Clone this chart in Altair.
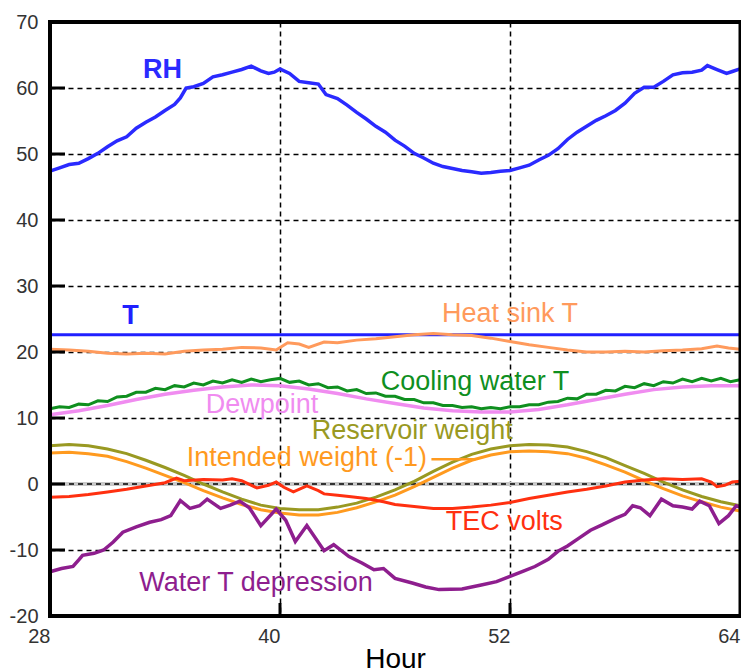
import altair as alt
import pandas as pd

# ---------------- data ----------------
rh_hour = [28.0, 28.5, 29.0, 29.5, 30.0, 30.5, 31.0, 31.5, 32.0, 32.5, 33.0, 33.5, 34.0, 34.5, 34.8, 35.1,
           35.5, 36.0, 36.5, 37.0, 37.5, 38.0, 38.5, 39.0, 39.4, 39.7, 40.0, 40.5, 41.0, 41.5, 42.0, 42.4,
           43.0, 43.5, 44.0, 44.5, 45.0, 45.5, 46.0, 46.5, 47.0, 47.5, 48.0, 48.5, 49.0, 49.5, 50.0, 50.5,
           51.0, 51.5, 52.0, 52.5, 53.0, 53.5, 54.0, 54.5, 55.0, 55.5, 56.0, 56.5, 57.0, 57.5, 58.0, 58.5,
           59.0, 59.5, 60.0, 60.5, 61.0, 61.5, 62.0, 62.3, 62.8, 63.3, 63.6, 64.0]
rh_val = [47.4, 47.9, 48.4, 48.6, 49.3, 50.1, 51.1, 52.0, 52.6, 53.9, 54.8, 55.6, 56.6, 57.5, 58.5, 60.0,
          60.2, 60.7, 61.7, 62.0, 62.4, 62.8, 63.3, 62.6, 62.2, 62.4, 62.9, 62.2, 61.0, 60.8, 60.6, 59.0,
          58.4, 57.4, 56.3, 55.3, 54.2, 53.3, 52.1, 51.2, 50.1, 49.4, 48.6, 48.1, 47.8, 47.5, 47.3, 47.1,
          47.2, 47.4, 47.5, 47.9, 48.3, 49.1, 49.8, 50.8, 52.2, 53.3, 54.2, 55.1, 55.8, 56.6, 57.7, 59.2,
          60.1, 60.1, 61.0, 62.0, 62.3, 62.4, 62.7, 63.4, 62.8, 62.2, 62.5, 62.9]

t_hour = [28.0, 64.0]
t_val = [22.6, 22.6]

heat_hour = [28.0, 29.0, 30.0, 31.0, 32.0, 33.0, 34.0, 35.0, 36.0, 37.0, 38.0, 39.0, 39.8, 40.4, 41.0,
             41.5, 42.3, 43.0, 44.0, 45.0, 46.0, 47.0, 48.0, 49.0, 50.0, 51.0, 52.0, 53.0, 54.0, 55.0,
             56.0, 57.0, 58.0, 59.0, 60.0, 61.0, 62.0, 62.8, 63.4, 64.0]
heat_val = [20.4, 20.3, 20.1, 19.8, 19.7, 19.8, 19.7, 20.1, 20.3, 20.4, 20.7, 20.6, 20.3, 21.4, 21.2,
            20.7, 21.5, 21.4, 21.8, 22.0, 22.3, 22.6, 22.8, 22.6, 22.5, 22.1, 21.6, 21.1, 20.7, 20.3,
            20.0, 20.0, 20.1, 20.0, 20.2, 20.3, 20.5, 20.9, 20.6, 20.4]

cool_hour = [28.0, 28.5, 29.0, 29.5, 30.0, 30.5, 31.0, 31.5, 32.0, 32.5, 33.0, 33.5, 34.0, 34.5, 35.0,
             35.5, 36.0, 36.5, 37.0, 37.5, 38.0, 38.5, 39.0, 39.5, 40.0, 40.5, 41.0, 41.5, 42.0, 42.5,
             43.0, 43.5, 44.0, 44.5, 45.0, 45.5, 46.0, 46.5, 47.0, 47.5, 48.0, 48.5, 49.0, 49.5, 50.0,
             50.5, 51.0, 51.5, 52.0, 52.5, 53.0, 53.5, 54.0, 54.5, 55.0, 55.5, 56.0, 56.5, 57.0, 57.5,
             58.0, 58.5, 59.0, 59.5, 60.0, 60.5, 61.0, 61.5, 62.0, 62.5, 63.0, 63.5, 64.0]
cool_val = [11.4, 11.7, 11.6, 12.1, 12.0, 12.6, 12.5, 13.2, 13.3, 13.9, 13.9, 14.5, 14.3, 14.9, 14.7,
            15.3, 15.0, 15.6, 15.3, 15.8, 15.4, 15.9, 15.5, 15.8, 16.0, 15.4, 15.6, 15.0, 15.2, 14.6,
            14.7, 14.1, 14.3, 13.7, 13.8, 13.3, 13.3, 12.8, 12.8, 12.3, 12.3, 11.9, 11.9, 11.6, 11.7,
            11.4, 11.6, 11.4, 11.7, 11.7, 12.0, 12.0, 12.4, 12.5, 13.0, 12.9, 13.6, 13.6, 14.2, 14.1,
            14.8, 14.6, 15.2, 14.9, 15.5, 15.3, 15.9, 15.5, 16.0, 15.6, 16.0, 15.5, 15.8]

dew_hour = [28.0, 29.5, 31.0, 32.5, 34.0, 35.5, 37.0, 38.5, 40.0, 41.5, 43.0, 44.5, 46.0, 47.5, 49.0,
            50.5, 52.0, 53.5, 55.0, 56.5, 58.0, 59.5, 61.0, 62.5, 64.0]
dew_val = [10.5, 11.1, 11.9, 12.8, 13.6, 14.2, 14.7, 15.0, 14.9, 14.4, 13.7, 12.9, 12.2, 11.5, 11.1,
           10.9, 10.9, 11.3, 12.0, 12.8, 13.6, 14.3, 14.7, 14.9, 14.9]

res_hour = [28, 29, 30, 31, 32, 33, 34, 35, 36, 37, 38, 39, 40, 41, 42, 43, 44, 45, 46, 47, 48, 49,
            50, 51, 52, 53, 54, 55, 56, 57, 58, 59, 60, 61, 62, 63, 64]
res_val = [5.8, 6.0, 5.8, 5.3, 4.6, 3.6, 2.5, 1.3, 0.0, -1.2, -2.3, -3.2, -3.7, -3.9, -3.9, -3.5,
           -2.9, -2.0, -0.9, 0.4, 1.9, 3.3, 4.5, 5.3, 5.8, 6.0, 5.9, 5.6, 4.9, 4.0, 2.8, 1.6, 0.3,
           -0.9, -1.9, -2.7, -3.3]

int_hour = [28, 29, 30, 31, 32, 33, 34, 35, 36, 37, 38, 39, 40, 41, 42, 43, 44, 45, 46, 47, 48, 49,
            50, 51, 52, 53, 54, 55, 56, 57, 58, 59, 60, 61, 62, 63, 64]
int_val = [4.7, 4.8, 4.6, 4.2, 3.4, 2.4, 1.3, 0.2, -1.0, -2.1, -3.1, -3.9, -4.4, -4.7, -4.7, -4.3,
           -3.6, -2.7, -1.7, -0.4, 1.0, 2.4, 3.6, 4.4, 4.9, 5.0, 4.9, 4.6, 3.9, 2.9, 1.8, 0.5, -0.7,
           -1.8, -2.7, -3.5, -4.1]

tec_hour = [28, 29, 30, 31, 32, 33, 34, 34.6, 35, 36, 37, 37.5, 38, 38.8, 39.4, 39.8, 40.2, 40.7, 41.4,
            42.0, 42.3, 43, 43.6, 44.5, 45.4, 46, 47, 48, 49, 50, 51, 52, 53, 54, 55, 56, 57, 58, 59,
            60, 61, 62, 62.5, 62.8, 63.2, 63.6, 64]
tec_val = [-2.0, -1.9, -1.6, -1.2, -0.8, -0.3, 0.2, 0.9, 0.5, 0.7, 0.6, 0.8, 0.5, -0.6, -0.2, 0.3, -0.5,
           -1.2, -0.3, -1.0, -1.5, -1.7, -1.9, -2.2, -2.7, -3.1, -3.4, -3.7, -3.7, -3.5, -3.2, -2.8,
           -2.2, -1.7, -1.2, -0.8, -0.3, 0.3, 0.6, 0.8, 0.7, 0.8, 0.3, -0.4, -0.2, 0.3, 0.4]

wtd_hour = [28.0, 28.6, 29.2, 29.5, 29.7, 30.3, 30.8, 31.3, 31.8, 32.5, 33.2, 33.8, 34.3, 34.8, 35.3,
            35.8, 36.2, 36.9, 37.4, 37.9, 38.4, 39.0, 39.8, 40.3, 40.8, 41.4, 42.3, 42.8, 43.6, 44.3,
            44.9, 45.4, 46.0, 46.9, 47.6, 48.3, 49.5, 50.5, 51.3, 52.0, 52.7, 53.3, 54.0, 54.5, 55.0,
            55.6, 56.2, 56.8, 57.5, 58.0, 58.4, 58.8, 59.3, 59.9, 60.5, 61.0, 61.5, 61.9, 62.4, 62.9,
            63.4, 63.8, 64.0]
wtd_val = [-13.3, -12.8, -12.5, -11.5, -10.8, -10.5, -10.0, -8.8, -7.3, -6.5, -5.8, -5.4, -4.8, -2.5,
           -3.7, -3.3, -2.3, -3.7, -3.2, -2.6, -3.6, -6.3, -3.8, -5.5, -8.7, -6.3, -10.1, -9.2, -11.0,
           -12.0, -13.0, -12.8, -14.3, -15.0, -15.6, -16.0, -15.9, -15.3, -14.8, -14.0, -13.2, -12.5,
           -11.4, -10.2, -9.4, -8.2, -7.0, -6.2, -5.2, -4.6, -3.3, -3.6, -4.8, -2.3, -3.3, -3.5, -3.8,
           -2.6, -3.3, -6.0, -4.8, -3.3, -3.5]

label_text = ["RH", "T", "Heat sink T", "Cooling water T", "Dewpoint", "Reservoir weight",
              "Intended weight (-1)", "TEC volts", "Water T depression"]
label_hour = [33.87, 32.2, 52.0, 50.17, 39.06, 46.9, 41.4, 51.7, 38.75]
label_val = [62.8, 25.5, 25.7, 15.5, 11.9, 8.0, 4.0, -5.7, -15.0]
label_bold = [True, True, False, False, False, False, False, False, False]

leader_hour = [47.9, 50.2]
leader_val = [3.75, 3.75]

x_ticks = [28, 40, 52, 64]
y_ticks = [-20, -10, 0, 10, 20, 30, 40, 50, 60, 70]
inner_y_ticks = [-10, 0, 10, 20, 30, 40, 50, 60]
inner_x_ticks = [40, 52]

# ---------------- styles ----------------
C_RH = "#2a2aff"
C_T = "#2020ff"
C_HEAT = "#ff9a5c"
C_COOL = "#0f8f1f"
C_DEW = "#f08cf0"
C_RES = "#999922"
C_INT = "#ff9a1f"
C_TEC = "#ff3010"
C_WTD = "#8e1e8e"
label_colors = [C_RH, C_T, C_HEAT, C_COOL, C_DEW, C_RES, C_INT, C_TEC, C_WTD]

FONT = "Liberation Sans"
W, H = 690, 594

x_scale = alt.Scale(domain=[28, 64], nice=False, zero=False)
y_scale = alt.Scale(domain=[-20, 70], nice=False, zero=False)

x_axis = alt.Axis(values=x_ticks, labelFontSize=20, labelFont=FONT, labelColor="#333333",
                  labelAlign="right", labelPadding=10, labelFlush=False,
                  labelExpr="toString(datum.value)",
                  ticks=False, domain=False, grid=True, gridDash=[5, 4], gridColor="black",
                  gridWidth=1.5, gridOpacity=1, title="Hour", titleFont=FONT, titleFontSize=28,
                  titleFontWeight="normal", titleColor="black", titleBaseline="alphabetic",
                  titleY=51)
y_axis = alt.Axis(values=y_ticks, labelFontSize=20, labelFont=FONT, labelColor="#333333",
                  labelPadding=12, labelFlush=False, labelExpr="toString(datum.value)",
                  ticks=False, domain=False, grid=True,
                  gridDash=[5, 4], gridColor="black", gridWidth=1.5, gridOpacity=1, title=None)

X = alt.X("hour:Q", scale=x_scale, axis=x_axis)
Y = alt.Y("val:Q", scale=y_scale, axis=y_axis)


def frame(hours, vals):
    return pd.DataFrame({"hour": hours, "val": vals})


def series(hours, vals, color, width):
    return alt.Chart(frame(hours, vals)).mark_line(color=color, strokeWidth=width).encode(x=X, y=Y)


zero_gray = alt.Chart(frame([28], [0])).mark_rule(color="#c8c8c8", strokeWidth=4).encode(y=Y)
zero_dash = alt.Chart(frame([28], [0])).mark_rule(color="black", strokeWidth=1.5,
                                                   strokeDash=[5, 4]).encode(y=Y)

layers = [
    zero_gray,
    zero_dash,
    series(t_hour, t_val, C_T, 3),
    series(heat_hour, heat_val, C_HEAT, 3),
    series(rh_hour, rh_val, C_RH, 3.5),
    series(dew_hour, dew_val, C_DEW, 3.5),
    series(cool_hour, cool_val, C_COOL, 3),
    series(res_hour, res_val, C_RES, 3),
    series(int_hour, int_val, C_INT, 3),
    series(tec_hour, tec_val, C_TEC, 3),
    series(wtd_hour, wtd_val, C_WTD, 3.5),
    series(leader_hour, leader_val, C_INT, 2.5),
]

ytick_df = pd.DataFrame({"val": inner_y_ticks})
ytick_layer = alt.Chart(ytick_df).mark_rule(color="black", strokeWidth=3).encode(
    y=Y, x=alt.value(0), x2=alt.value(15))
xtick_df = pd.DataFrame({"hour": inner_x_ticks})
xtick_layer = alt.Chart(xtick_df).mark_rule(color="black", strokeWidth=3).encode(
    x=X, y=alt.value(H - 13), y2=alt.value(H))

# plot frame (thick left / top / bottom, thinner right)
border_base = alt.Chart(pd.DataFrame({"k": [0]}))
border_left = border_base.mark_rule(color="black", strokeWidth=4).encode(
    x=alt.value(0), y=alt.value(-2), y2=alt.value(H + 2))
border_bottom = border_base.mark_rule(color="black", strokeWidth=4).encode(
    x=alt.value(-2), x2=alt.value(W + 2), y=alt.value(H))
border_top = border_base.mark_rule(color="black", strokeWidth=4).encode(
    x=alt.value(-2), x2=alt.value(W + 2), y=alt.value(0))
border_right = border_base.mark_rule(color="black", strokeWidth=3).encode(
    x=alt.value(W), y=alt.value(-2), y2=alt.value(H + 2))

lab_df = pd.DataFrame({"text": label_text, "hour": label_hour, "val": label_val,
                       "color": label_colors, "bold": label_bold})
text_normal = alt.Chart(lab_df).transform_filter("!datum.bold").mark_text(
    font=FONT, fontSize=27, align="center", baseline="middle").encode(
    x=X, y=Y, text="text:N", color=alt.Color("color:N", scale=None))
text_bold = alt.Chart(lab_df).transform_filter("datum.bold").mark_text(
    font=FONT, fontSize=27, fontWeight="bold", align="center", baseline="middle").encode(
    x=X, y=Y, text="text:N", color=alt.Color("color:N", scale=None))

chart = alt.layer(*layers, ytick_layer, xtick_layer,
                  border_left, border_bottom, border_top, border_right,
                  text_normal, text_bold).properties(
    width=W, height=H,
    autosize=alt.AutoSizeParams(type="none"),
    padding={"left": 50, "top": 22, "right": 1, "bottom": 56},
    background="white",
).configure_view(stroke=None)

chart.save("out.html", embed_options={"renderer": "svg", "actions": False})
